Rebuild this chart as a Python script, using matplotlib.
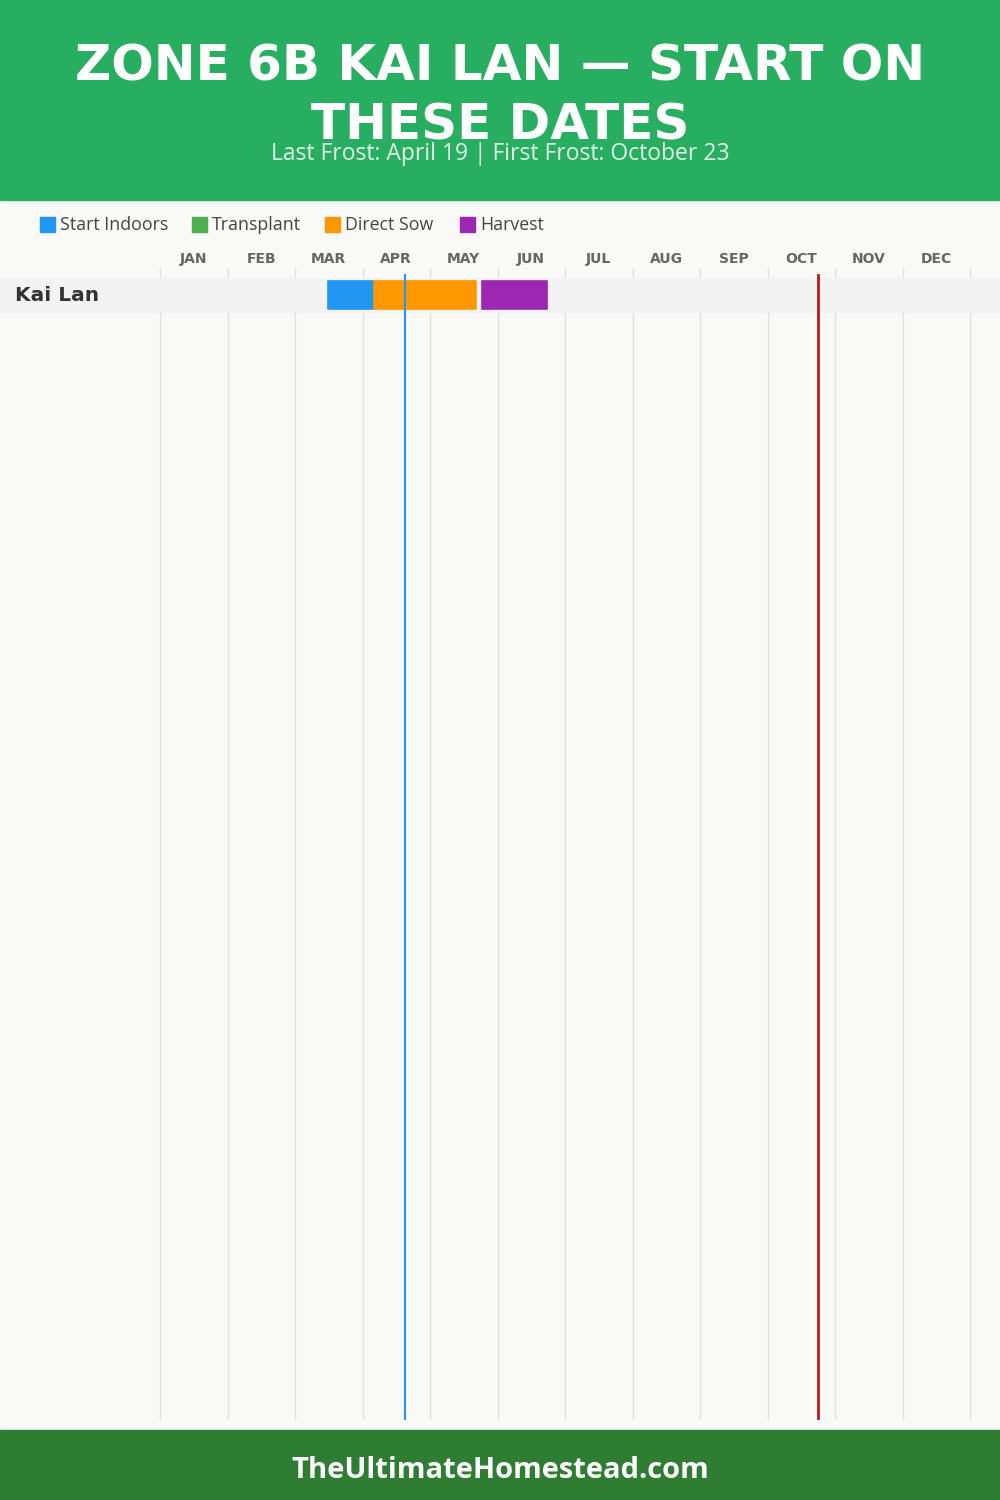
import matplotlib.pyplot as plt
from matplotlib.patches import Rectangle

# data
months = ['JAN', 'FEB', 'MAR', 'APR', 'MAY', 'JUN',
          'JUL', 'AUG', 'SEP', 'OCT', 'NOV', 'DEC']
month_days = [31, 28, 31, 30, 31, 30, 31, 31, 30, 31, 30, 31]
crops = ['Kai Lan']
stages = ['Start Indoors', 'Transplant', 'Direct Sow', 'Harvest']
stage_colors = ['#2196F3', '#4CAF50', '#FF9800', '#9C27B0']
# (month, day) start and end per stage, None if not used
kai_lan_stages = [((3, 15), (4, 5)), None, ((4, 5), (5, 21)), ((5, 24), (6, 22))]
last_frost = (4, 19)
first_frost = (10, 23)
title = 'ZONE 6B KAI LAN \u2014 START ON\nTHESE DATES'
subtitle = 'Last Frost: April 19 | First Frost: October 23'
footer = 'TheUltimateHomestead.com'


def mpos(md):
    # month/day -> position in month units (Jan 1 = 0)
    m, d = md
    return (m - 1) + d / month_days[m - 1]


W, H = 1000, 1500
fig = plt.figure(figsize=(10, 15), dpi=100)
fig.patch.set_facecolor('#f9f9f7')

def fy(px):
    return 1 - px / H

# header and footer bands
fig.patches.append(Rectangle((0, fy(200)), 1, 200 / H, transform=fig.transFigure,
                             color='#27ae60', zorder=0))
fig.patches.append(Rectangle((0, 0), 1, 70 / H, transform=fig.transFigure,
                             color='#2e7d32', zorder=0))
fig.text(0.5, fy(96), title, ha='center', va='center', color='white',
         fontsize=36, fontweight='bold', linespacing=1.3, family='DejaVu Sans')
fig.text(0.5, fy(154), subtitle, ha='center', va='center', color='#e3f2e6',
         fontsize=16.5, family='Open Sans')
fig.text(0.5, fy(1471), footer, ha='center', va='center', color='white',
         fontsize=21, fontweight='bold', family='Open Sans')

# legend
leg_x = [40, 192, 325, 460]
for x, name, c in zip(leg_x, stages, stage_colors):
    fig.patches.append(Rectangle((x / W, fy(232)), 15 / W, 15 / H,
                                 transform=fig.transFigure, color=c))
    fig.text((x + 20) / W, fy(225), name, ha='left', va='center',
             color='#444444', fontsize=12.8, family='Open Sans')

# chart axes: full width, x in months
px_per_month = 67.5
ax_top, ax_bot = 268, 1420
ax = fig.add_axes([0, fy(ax_bot), 1, (ax_bot - ax_top) / H])
ax.set_facecolor('none')
ax.set_xlim(-160 / px_per_month, (W - 160) / px_per_month)
row_px = 34
ax.set_ylim((ax_bot - 295) / row_px, -(295 - ax_top) / row_px)
for s in ax.spines.values():
    s.set_visible(False)
ax.set_xticks([])
ax.set_yticks([])

for i in range(13):
    ax.axvline(i, color='#e0e0e0', lw=1, zorder=0)
for i, m in enumerate(months):
    ax.text(i + 0.5, -(295 - 259) / row_px, m, ha='center', va='center',
            color='#666666', fontsize=10, fontweight='bold', family='DejaVu Sans',
            clip_on=False)

for r, crop in enumerate(crops):
    ax.axhspan(r - 0.5, r + 0.5, color='#f3f3f3', zorder=1)
    ax.text(-145 / px_per_month, r, crop, ha='left', va='center', color='#333333',
            fontsize=14.5, fontweight='bold', family='DejaVu Sans')
    for span, c in zip(kai_lan_stages, stage_colors):
        if span is None:
            continue
        x0, x1 = mpos(span[0]), mpos(span[1])
        ax.barh(r, x1 - x0, left=x0, height=0.84, color=c,
                edgecolor=c, linewidth=1.2, joinstyle='round', zorder=2)

frac = (ax_bot - 275) / (ax_bot - ax_top)
ax.axvline(mpos(last_frost), ymin=0, ymax=frac, color='#2196F3', lw=1.5, zorder=3)
ax.axvline(mpos(first_frost), ymin=0, ymax=frac, color='#b71c1c', lw=2, zorder=3)

fig.savefig('out.png', dpi=100, facecolor=fig.get_facecolor())
